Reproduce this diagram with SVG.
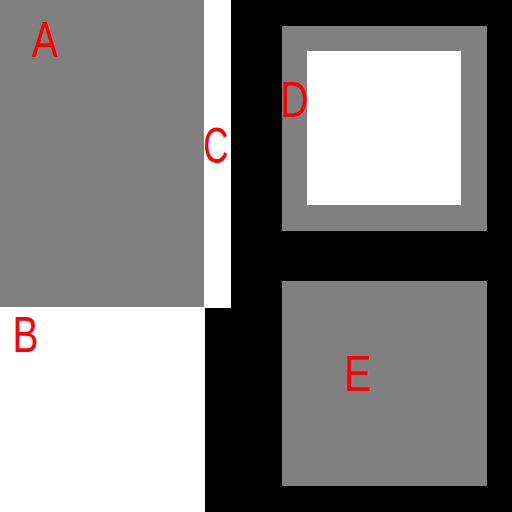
<svg xmlns="http://www.w3.org/2000/svg" width="512" height="512" viewBox="0 0 512 512">
<style>
.g{fill:#808080}
.w{fill:#ffffff}
.k{fill:#000000}
.t{font-family:"Liberation Sans",Arial,sans-serif;font-size:50px;fill:#ff0000;text-anchor:middle}
</style>
<rect class="w" x="0" y="0" width="512" height="512"/>
<g id="blackbg">
<rect class="k" x="231" y="0" width="281" height="512"/>
<rect class="k" x="205" y="308" width="30" height="204"/>
</g>
<g id="A">
<rect class="g" x="0" y="0" width="204" height="307"/>
<text class="t" transform="translate(45,57) scale(0.78,1)">A</text>
</g>
<g id="B">
<text class="t" transform="translate(25.5,352) scale(0.78,1)">B</text>
</g>
<g id="C">
<rect class="w" x="204" y="0" width="27" height="308"/>
<text class="t" transform="translate(216,163) scale(0.7,1)">C</text>
</g>
<g id="D">
<rect class="g" x="282" y="26" width="205" height="205"/>
<rect class="w" x="307" y="51" width="154" height="154"/>
<text class="t" transform="translate(294.5,117) scale(0.78,1)">D</text>
</g>
<g id="E">
<rect class="g" x="282" y="281" width="205" height="205"/>
<text class="t" transform="translate(358,391) scale(0.82,1)">E</text>
</g>
<g id="connectors"></g>
</svg>
